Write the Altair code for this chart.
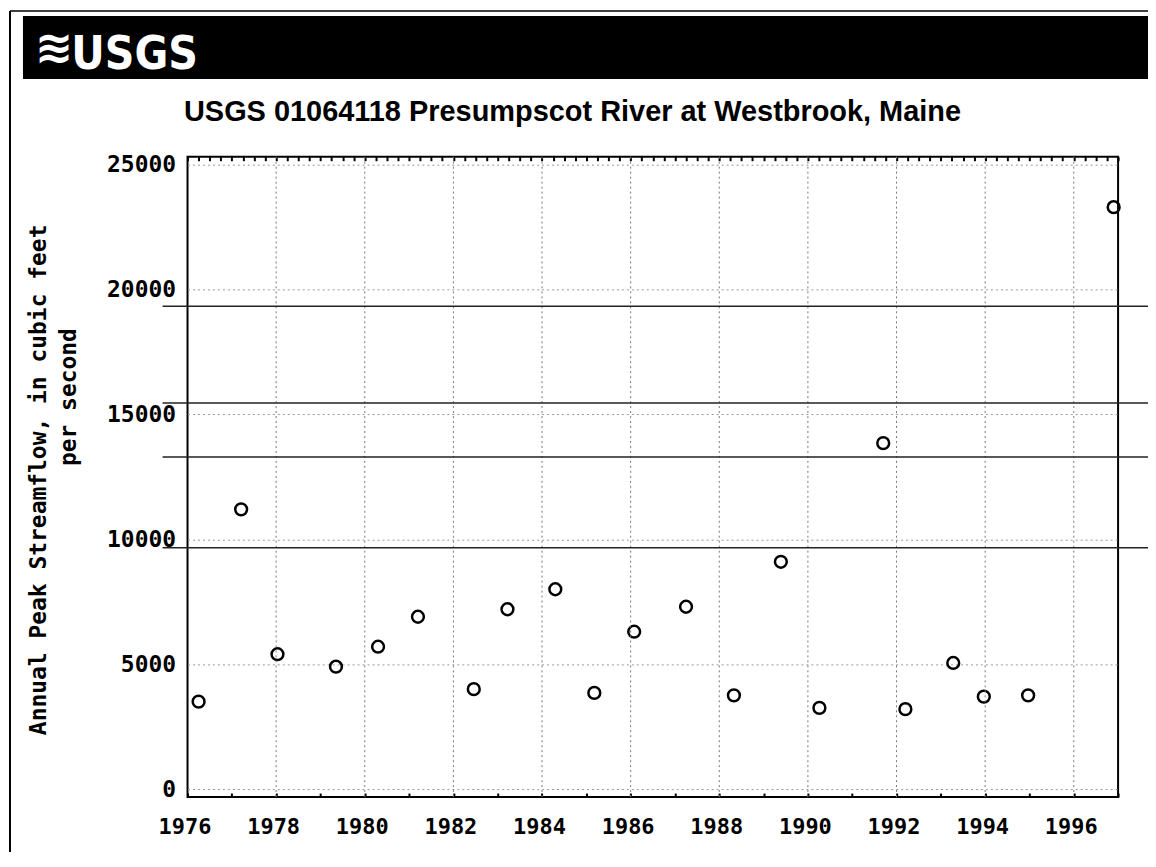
import altair as alt
import pandas as pd

# ---- data ----
years = [1976.25, 1977.21, 1978.03, 1979.35, 1980.30, 1981.20, 1982.46, 1983.22,
         1984.30, 1985.18, 1986.08, 1987.25, 1988.33, 1989.39, 1990.26, 1991.70,
         1992.20, 1993.28, 1993.97, 1994.97, 1996.90]
flows = [3500, 11200, 5400, 4900, 5700, 6900, 4000, 7200,
         8000, 3850, 6300, 7300, 3750, 9100, 3250, 13850,
         3200, 5050, 3700, 3750, 23300]

x_label_years = [1976, 1978, 1980, 1982, 1984, 1986, 1988, 1990, 1992, 1994, 1996]
grid_years = [1978, 1980, 1982, 1984, 1986, 1988, 1990, 1992, 1994, 1996]
y_ticks = [0, 5000, 10000, 15000, 20000, 25000]
scan_lines = [19330, 15455, 13300, 9665]   # horizontal lines crossing the scanned page

title_text = "USGS 01064118 Presumpscot River at Westbrook, Maine"
ytitle_1 = "Annual Peak Streamflow, in cubic feet"
ytitle_2 = "per second"

# ---- layout ----
W, H = 933, 642
PAD = {"left": 180, "top": 148, "right": 30, "bottom": 55}
mono = "DejaVu Sans Mono"

quarters = [1976 + q / 4 for q in range(0, 85)]

xscale = alt.Scale(domain=[1976, 1997], nice=False, zero=False)
yscale = alt.Scale(domain=[-320, 25320], nice=False, zero=False)

df = pd.DataFrame({"year": years, "flow": flows})
grid_df = pd.DataFrame({"year": grid_years})
scan_df = pd.DataFrame({"flow": scan_lines})
one = pd.DataFrame({"k": [0]})

vgrid = alt.Chart(grid_df).mark_rule(color="#777777", strokeDash=[2, 3], strokeWidth=1).encode(
    x=alt.X("year:Q", scale=xscale,
            axis=alt.Axis(orient="top", values=quarters, offset=-4, tickSize=4, tickWidth=2,
                          tickColor="black", labels=False, domain=False, grid=False, title=None))
)

scan = alt.Chart(scan_df).mark_rule(color="#222222", strokeWidth=1.5).encode(
    y=alt.Y("flow:Q", scale=yscale, axis=None),
    x=alt.value(-25), x2=alt.value(W + PAD["right"])
)

points = alt.Chart(df).mark_point(shape="circle", filled=False, color="black",
                                  strokeWidth=2.5, size=140, opacity=1).encode(
    x=alt.X("year:Q", scale=xscale,
            axis=alt.Axis(orient="bottom", values=quarters, offset=-4, tickSize=4, tickWidth=2,
                          tickColor="black", format="d",
                          labelExpr="datum.value % 2 === 0 ? datum.label : ''",
                          labelFont=mono, labelFontSize=22, labelFontWeight="bold",
                          labelColor="black", labelPadding=20, labelOverlap=False,
                          labelFlush=False, labelBound=False, labelOffset=-3,
                          domain=False, grid=False, title=None)),
    y=alt.Y("flow:Q", scale=yscale,
            axis=alt.Axis(orient="left", values=y_ticks, format="d", grid=True,
                          gridColor="#999999", gridDash=[2, 3], gridWidth=1,
                          ticks=False, domain=False, labelFont=mono, labelFontSize=23,
                          labelFontWeight="bold", labelColor="black", labelPadding=12,
                          labelOverlap=False, labelFlush=False, labelBound=False,
                          title=None))
)

# ---- page decoration ----
banner = alt.Chart(one).mark_rect(color="black").encode(
    x=alt.value(-165), x2=alt.value(W + PAD["right"]), y=alt.value(-141), y2=alt.value(-78)
)
logo = alt.Chart(one).mark_text(text="USGS",
                                font="'Liberation Sans Narrow', 'DejaVu Sans Condensed', 'Liberation Sans', sans-serif",
                                fontSize=46, fontWeight="bold", color="white", align="center",
                                baseline="alphabetic").encode(x=alt.value(-53), y=alt.value(-88))
wave = alt.Chart(one).mark_text(text="≋", font="DejaVu Sans", fontSize=46, fontWeight="bold",
                                color="white", align="center", baseline="middle").encode(
    x=alt.value(-134), y=alt.value(-108))
title = alt.Chart(one).mark_text(text=title_text, font="Liberation Sans", fontSize=29,
                                 fontWeight="bold", color="black", align="center",
                                 baseline="alphabetic").encode(x=alt.value(386), y=alt.value(-36))
yt1 = alt.Chart(one).mark_text(text=ytitle_1, font=mono, fontSize=23, fontWeight="bold",
                               color="black", angle=270, align="center", baseline="middle").encode(
    x=alt.value(-149), y=alt.value(324))
yt2 = alt.Chart(one).mark_text(text=ytitle_2, font=mono, fontSize=23, fontWeight="bold",
                               color="black", angle=270, align="center", baseline="middle").encode(
    x=alt.value(-119), y=alt.value(241))
border_l = alt.Chart(one).mark_rule(color="black", strokeWidth=2).encode(
    x=alt.value(-178), y=alt.value(-146), y2=alt.value(H + PAD["bottom"]))
border_t = alt.Chart(one).mark_rule(color="black", strokeWidth=1.5).encode(
    x=alt.value(-178), x2=alt.value(W + PAD["right"]), y=alt.value(-146))

chart = alt.layer(points, vgrid, scan, banner, logo, wave, title, yt1, yt2, border_l, border_t).resolve_axis(
    x="independent", y="independent"
).properties(
    width=W, height=H, padding=PAD, autosize=alt.AutoSizeParams(type="none"), background="white"
).configure_view(stroke="black", strokeWidth=2)

chart.save("out.html", embed_options={"renderer": "svg", "actions": False})
